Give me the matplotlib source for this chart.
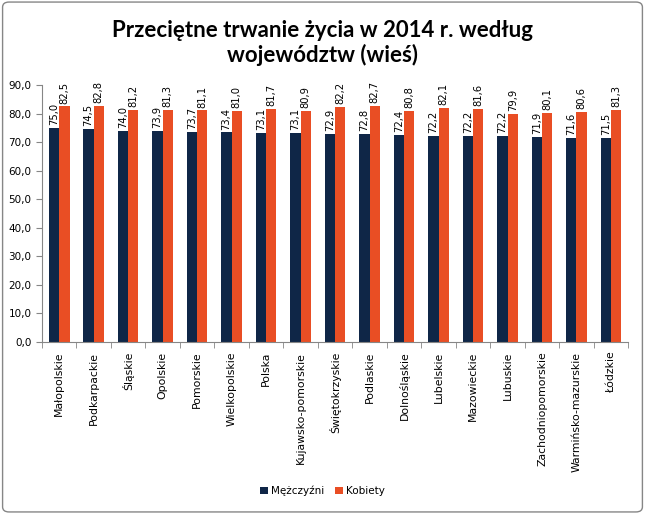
import matplotlib
matplotlib.use("Agg")
import matplotlib.pyplot as plt
import numpy as np
from matplotlib.patches import FancyBboxPatch

regions = ["Małopolskie", "Podkarpackie", "Śląskie", "Opolskie", "Pomorskie",
           "Wielkopolskie", "Polska", "Kujawsko-pomorskie", "Świętokrzyskie",
           "Podlaskie", "Dolnośląskie", "Lubelskie", "Mazowieckie", "Lubuskie",
           "Zachodniopomorskie", "Warmińsko-mazurskie", "Łódzkie"]
men = [75.0, 74.5, 74.0, 73.9, 73.7, 73.4, 73.1, 73.1, 72.9, 72.8,
       72.4, 72.2, 72.2, 72.2, 71.9, 71.6, 71.5]
women = [82.5, 82.8, 81.2, 81.3, 81.1, 81.0, 81.7, 80.9, 82.2, 82.7,
         80.8, 82.1, 81.6, 79.9, 80.1, 80.6, 81.3]
yticks = np.arange(0, 91, 10)

NAVY = "#0F2647"
ORANGE = "#E94E24"
GREY = "#868686"

plt.rcParams["font.family"] = ["DejaVu Sans"]

fig = plt.figure(figsize=(6.45, 5.14), dpi=100)
fig.patches.append(FancyBboxPatch((0.004, 0.004), 0.992, 0.992,
                                  boxstyle="round,pad=0,rounding_size=0.01",
                                  transform=fig.transFigure, fill=False,
                                  edgecolor=GREY, linewidth=1.0))
ax = fig.add_axes([0.065, 0.3346, 0.909, 0.5])

x = np.arange(len(regions))
w = 0.3
b1 = ax.bar(x - w / 2, men, w, color=NAVY, label="Mężczyźni")
b2 = ax.bar(x + w / 2, women, w, color=ORANGE, label="Kobiety")

for bars in (b1, b2):
    for r in bars:
        ax.text(r.get_x() + r.get_width() / 2, r.get_height() + 1.0,
                f"{r.get_height():.1f}".replace(".", ","),
                rotation=90, ha="center", va="bottom", fontsize=7.2)

ax.set_xlim(-0.5, len(regions) - 0.5)
ax.set_ylim(0, 90)
ax.set_yticks(yticks)
ax.set_yticklabels([f"{v:.1f}".replace(".", ",") for v in yticks], fontsize=7.5)
ax.set_xticks(x)
ax.set_xticklabels(regions, rotation=90, fontsize=7.8)
ax.set_xticks(np.arange(-0.5, len(regions)), minor=True)
ax.tick_params(axis="x", which="major", length=0, pad=7)
ax.tick_params(axis="x", which="minor", length=4, color=GREY)
ax.tick_params(axis="y", length=4, color=GREY)
for s in ("top", "right"):
    ax.spines[s].set_visible(False)
for s in ("left", "bottom"):
    ax.spines[s].set_color(GREY)

fig.text(0.5, 0.916, "Przeciętne trwanie życia w 2014 r. według\nwojewództw (wieś)",
         ha="center", va="center", fontsize=16, fontweight="bold",
         family="Lato", linespacing=1.15)

fig.legend(handles=[b1, b2], loc="center", bbox_to_anchor=(0.5, 0.045),
           ncol=2, frameon=False, fontsize=7.5, handlelength=0.8,
           handleheight=0.8, handletextpad=0.3, columnspacing=1.0)

fig.savefig("out.png", dpi=100)
